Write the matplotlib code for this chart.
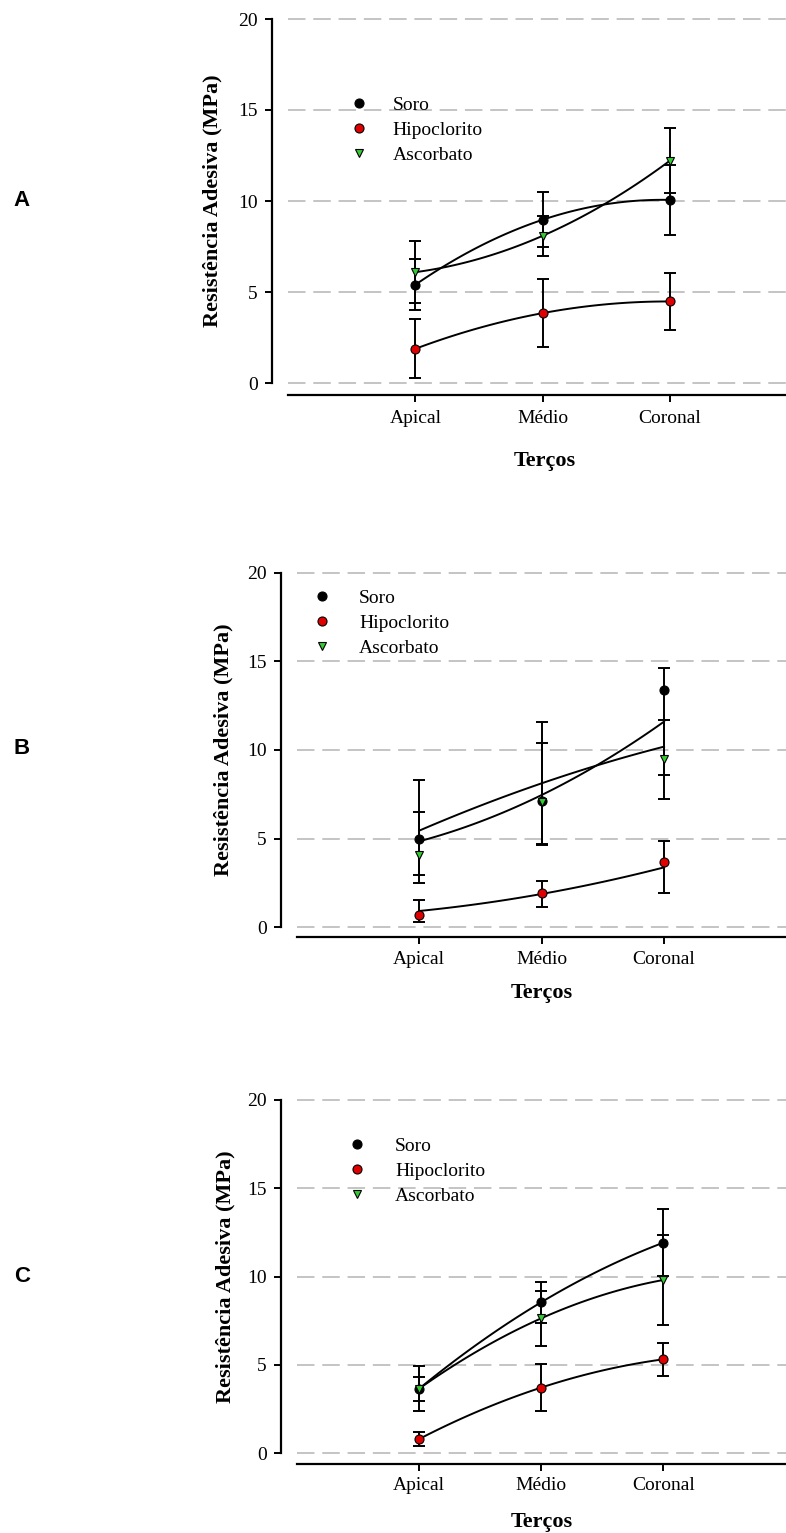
import numpy as np
import matplotlib
matplotlib.use('Agg')
import matplotlib.pyplot as plt

plt.rcParams['font.family'] = 'Liberation Serif'

# categorias (tercos)
categorias = ['Apical', 'Médio', 'Coronal']
x = [1, 2, 3]

# painel A - medias e desvios
soro_a = [5.40, 8.97, 10.06]
soro_a_err = [1.40, 1.52, 1.92]
hipo_a = [1.88, 3.84, 4.48]
hipo_a_err = [1.62, 1.85, 1.58]
asc_a = [6.09, 8.09, 12.22]
asc_a_err = [1.72, 1.10, 1.80]

# painel B - barras assimetricas (abaixo / acima) e curvas ajustadas
soro_b = [4.96, 7.10, 13.38]
soro_b_lo = [2.48, 2.46, 4.79]
soro_b_hi = [3.35, 4.50, 1.24]
soro_b_fit = [4.85, 7.46, 11.60]
hipo_b = [0.70, 1.92, 3.67]
hipo_b_lo = [0.38, 0.75, 1.72]
hipo_b_hi = [0.84, 0.71, 1.20]
hipo_b_fit = [0.92, 1.88, 3.38]
asc_b = [4.08, 7.09, 9.47]
asc_b_lo = [1.13, 2.39, 2.23]
asc_b_hi = [2.40, 3.29, 2.23]
asc_b_fit = [5.45, 8.12, 10.19]

# painel C
soro_c = [3.66, 8.55, 11.92]
soro_c_err = [0.68, 1.17, 1.89]
hipo_c = [0.81, 3.72, 5.32]
hipo_c_err = [0.40, 1.35, 0.92]
asc_c = [3.66, 7.64, 9.81]
asc_c_err = [1.27, 1.55, 2.55]

nomes = ['Soro', 'Hipoclorito', 'Ascorbato']
cores = ['black', '#e00000', '#33cc33']
marcadores = ['o', 'o', 'v']

W, H = 786, 1533
fig = plt.figure(figsize=(W / 100, H / 100), dpi=100)


# desenha um painel; posicoes em pixels da imagem
def painel(letra, series, x0, ppx, y0, y20, lspine, bspine, leg_x, leg_y, leg_gap,
           ylab_x, xlab_x, xlab_y, letra_y, xpad):
    ppy = (y0 - y20) / 20.0
    bottom_px = y0 + 0.5 * ppy
    top_px = y20 - 0.5 * ppy
    ax = fig.add_axes([x0 / W, 1 - bottom_px / H, (W - x0) / W, (bottom_px - top_px) / H])
    ax.set_xlim(0, (W - x0) / ppx)
    ax.set_ylim(-0.5, 20.5)

    handles = []
    for (media, lo, hi, fit), nome, cor, mk in zip(series, nomes, cores, marcadores):
        coef = np.polyfit(x, fit, 2)
        xs = np.linspace(1, 3, 100)
        ax.plot(xs, np.polyval(coef, xs), color='black', lw=1.4, zorder=2)
        ax.errorbar(x, media, yerr=[lo, hi], fmt='none', ecolor='black',
                    elinewidth=1.4, capsize=4.5, capthick=1.4, zorder=3)
        h, = ax.plot(x, media, ls='none', marker=mk, mfc=cor, mec='black',
                     ms=6.5 if mk == 'o' else 6, mew=0.8, zorder=4)
        handles.append(h)

    ax.set_yticks([0, 5, 10, 15, 20])
    ax.yaxis.grid(True, color='#c4c4c4', lw=1.4, ls=(0, (9, 4)))
    ax.set_axisbelow(True)
    ax.set_xticks(x)
    ax.set_xticklabels(categorias)

    for s in ['top', 'right']:
        ax.spines[s].set_visible(False)
    ax.spines['left'].set_position(('outward', (x0 - lspine) * 0.72))
    ax.spines['left'].set_bounds(0, 20)
    ax.spines['bottom'].set_position(('outward', (bspine - bottom_px) * 0.72))
    for s in ['left', 'bottom']:
        ax.spines[s].set_linewidth(1.6)
    ax.tick_params(axis='y', direction='out', length=5, width=1.4, pad=5, labelsize=14)
    ax.tick_params(axis='x', direction='out', length=5, width=1.4, pad=xpad, labelsize=14)

    ax.set_ylabel('Resistência Adesiva (MPa)', fontsize=16, fontweight='bold')
    ax.yaxis.set_label_coords((ylab_x - x0) / (W - x0), 0.5)
    ax.yaxis.label.set_va('center')
    ax.set_xlabel('Terços', fontsize=16, fontweight='bold')
    ax.xaxis.set_label_coords((xlab_x - x0) / (W - x0), -(xlab_y - bottom_px) / (bottom_px - top_px))
    ax.xaxis.label.set_va('center')

    fs_px = 14 * 100 / 72.0
    ax.legend(handles, nomes, loc='upper left',
              bbox_to_anchor=((leg_x - 0.5 * fs_px) / W, 1 - (leg_y - 8.7) / H),
              bbox_transform=fig.transFigure, frameon=False, borderpad=0,
              borderaxespad=0, handlelength=1.0,
              handletextpad=(leg_gap - 0.5 * fs_px) / fs_px,
              labelspacing=0.37, fontsize=14)

    fig.text(22 / W, 1 - letra_y / H, letra, family='Liberation Sans',
             fontweight='bold', fontsize=16, ha='center', va='center')
    return ax


serie_a = [(soro_a, soro_a_err, soro_a_err, soro_a),
           (hipo_a, hipo_a_err, hipo_a_err, hipo_a),
           (asc_a, asc_a_err, asc_a_err, asc_a)]
serie_b = [(soro_b, soro_b_lo, soro_b_hi, soro_b_fit),
           (hipo_b, hipo_b_lo, hipo_b_hi, hipo_b_fit),
           (asc_b, asc_b_lo, asc_b_hi, asc_b_fit)]
serie_c = [(soro_c, soro_c_err, soro_c_err, soro_c),
           (hipo_c, hipo_c_err, hipo_c_err, hipo_c),
           (asc_c, asc_c_err, asc_c_err, asc_c)]

painel('A', serie_a, 288.1, 127.3, 383, 19, 271.8, 395, 358.7, 105, 34,
       212.5, 545, 461, 201, 6)
painel('B', serie_b, 296.7, 122.45, 927.3, 572.7, 280.6, 937.3, 321.6, 598.3, 37.5,
       223, 541.7, 993, 749, 5)
painel('C', serie_c, 297.2, 122.0, 1453.3, 1100, 280.6, 1464.3, 357.2, 1146, 38,
       225, 541.6, 1522, 1277, 4.5)

fig.savefig('out.png', dpi=100)
